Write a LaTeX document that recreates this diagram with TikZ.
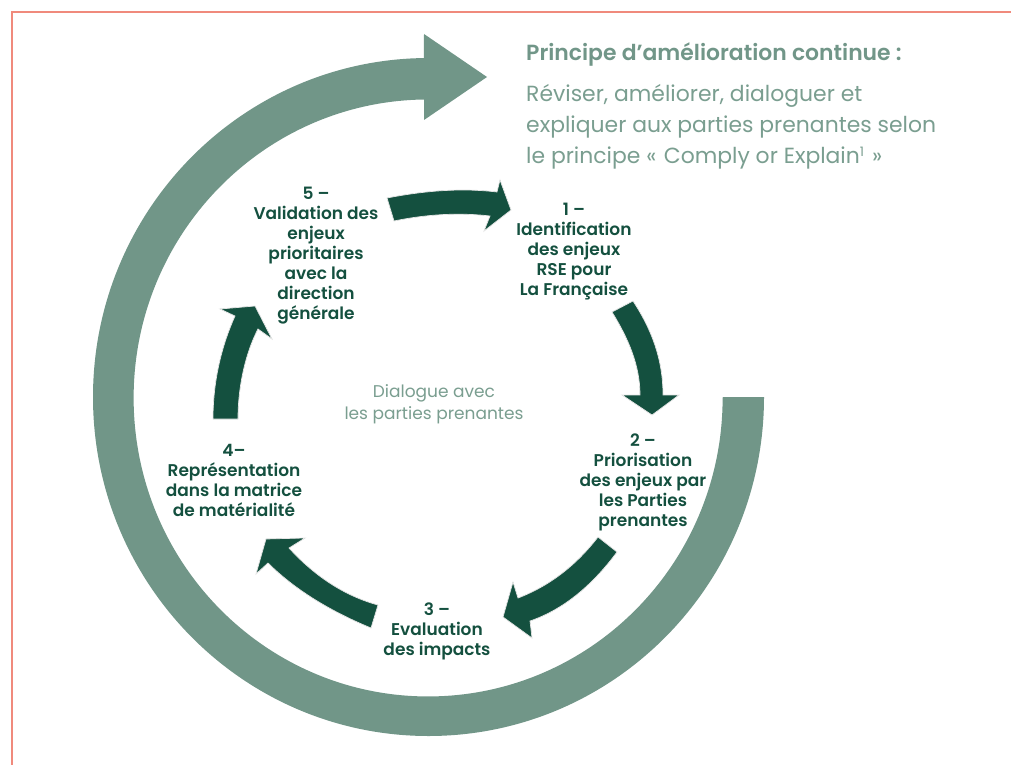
\documentclass[tikz,border=0pt]{standalone}
\usepackage{fontspec}
\setmainfont{Poppins}[BoldFont={Poppins SemiBold}]
\definecolor{ringgreen}{HTML}{719688}
\definecolor{darkgreen}{HTML}{14503F}
\definecolor{salmon}{HTML}{F08A7C}
\definecolor{softtext}{HTML}{7A9E90}
\tikzset{
  ring/.style={fill=ringgreen,draw=none},
  darrow/.style={fill=darkgreen,draw=black!10,line width=0.7pt,line join=miter},
  steplabel/.style={align=center,text=darkgreen,font=\fontsize{17}{20}\selectfont\bfseries,inner sep=0pt},
  titletext/.style={anchor=north west,align=left,text=ringgreen,inner sep=0pt},
}
\begin{document}
\begin{tikzpicture}[x=1pt,y=-1pt]
\useasboundingbox (0,0) rectangle (1011,765);
\fill[white] (0,0) rectangle (1011,765);
\draw[salmon,line width=1.3pt] (1011,12) -- (12,12) -- (12,765);
% big ring
\fill[ring] (764,397) arc[start angle=0,end angle=-269.2,x radius=335.5pt,y radius=339pt]
  -- (424,34) -- (487,77) -- (424,120) -- (424,99.5)
  arc[start angle=-269.2,end angle=0,x radius=294.5pt,y radius=298.5pt] -- (723,397) -- cycle;
% dark arrows
\fill[darrow] (387,198) .. controls (424.5,190.7) and (461.2,187.7) .. (497,192) -- (500,180) -- (511,210) -- (484,231) -- (490,216) .. controls (462.5,212.8) and (430.5,213.5) .. (394,221) -- cycle;
\fill[darrow] (612,312) .. controls (628,338) and (640,365) .. (640,395) -- (622,395) -- (652,415) -- (679,395) -- (663,395) .. controls (663,360) and (652,330) .. (633,301) -- cycle;
\fill[darrow] (598,537) .. controls (575.8,565.8) and (549.1,586.1) .. (518,598) -- (513,582) -- (503,617) -- (532,638) -- (530,621) .. controls (562.1,610) and (591.1,587) .. (617,552) -- cycle;
\fill[darrow] (378,605) .. controls (342.5,595.3) and (313,574.3) .. (289,548) -- (305,538) -- (266,539) -- (256,574) -- (268,563) .. controls (293.9,588.7) and (328.2,610.3) .. (371,628) -- cycle;
\fill[darrow] (213,419) .. controls (213,380) and (222,345) .. (235,316) -- (220,309) -- (255,306) -- (272,339) -- (258,329) .. controls (246,352) and (238,385) .. (238,419) -- cycle;
% labels
\node[steplabel] (s1) at (574,252) {1 –\\Identification\\des enjeux\\RSE pour\\La Française};
\node[steplabel] (s2) at (643,482) {2 –\\Priorisation\\des enjeux par\\les Parties\\prenantes};
\node[steplabel] (s3) at (437,631) {3 –\\Evaluation\\des impacts};
\node[steplabel] (s4) at (234,480) {4–\\Représentation\\dans la matrice\\de matérialité};
\node[steplabel] (s5) at (316,256) {5 –\\Validation des\\enjeux\\prioritaires\\avec la\\direction\\générale};
\node[align=center,text=softtext,inner sep=0pt,font=\fontsize{17}{22}\selectfont] (centre) at (434,404) {Dialogue avec\\les parties prenantes};
\node[titletext,font=\fontsize{21.9}{24}\selectfont\bfseries] (title) at (526,42) {Principe d’amélioration continue :};
\node[titletext,font=\fontsize{21.9}{31}\selectfont,text=softtext] (body) at (526,84) {Réviser, améliorer, dialoguer et\\expliquer aux parties prenantes selon\\le principe «\hspace{7.5pt}Comply or Explain{\fontsize{13}{13}\selectfont\raisebox{7pt}{1}}\hspace{8pt}»};
\end{tikzpicture}
\end{document}
